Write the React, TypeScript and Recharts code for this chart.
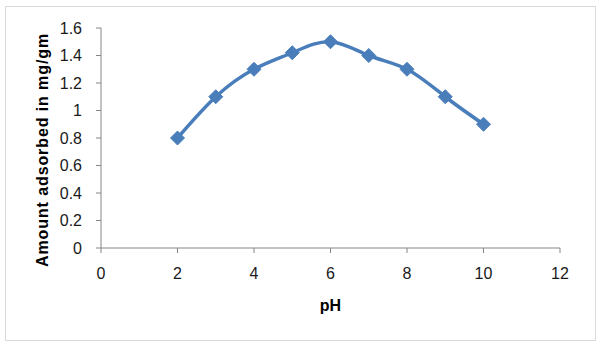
import React from "react";
import { LineChart, Line, XAxis, YAxis, Label } from "recharts";

const phValues = [2, 3, 4, 5, 6, 7, 8, 9, 10];
const amountAdsorbed = [0.8, 1.1, 1.3, 1.42, 1.5, 1.4, 1.3, 1.1, 0.9];
const xTicks = [0, 2, 4, 6, 8, 10, 12];
const yTicks = [0, 0.2, 0.4, 0.6, 0.8, 1, 1.2, 1.4, 1.6];

const data = phValues.map((ph, i) => ({ ph, amount: amountAdsorbed[i] }));

const FONT = "'Liberation Sans', Arial, sans-serif";
const AXIS = "#868686";
const BLUE = "#4A7EBB";

// diamond marker like Excel's default
const Diamond = (props: any) => {
  const { cx, cy } = props;
  if (cx == null || cy == null) return null;
  const r = 7;
  return (
    <polygon
      points={`${cx},${cy - r} ${cx + r},${cy} ${cx},${cy + r} ${cx - r},${cy}`}
      fill={BLUE}
      stroke={BLUE}
      strokeWidth={1}
    />
  );
};

const YTitle = (props: any) => {
  const vb = props.viewBox;
  const x = vb.x + 1;
  const y = vb.y + vb.height / 2 + 12;
  return (
    <text
      x={x}
      y={y}
      transform={`rotate(-90, ${x}, ${y})`}
      textAnchor="middle"
      dominantBaseline="central"
      fontFamily={FONT}
      fontWeight="bold"
      fontSize={16}
      letterSpacing={0.9}
      fill="#000"
    >
      Amount adsorbed in mg/gm
    </text>
  );
};

export default function App() {
  return (
    <div style={{ position: "absolute", left: 0, top: 0, width: 601, height: 350, background: "#fff" }}>
      <div
        style={{
          position: "absolute",
          left: 5,
          top: 6,
          width: 589,
          height: 333,
          border: "1px solid #d9d9d9",
        }}
      />
      <div style={{ position: "absolute", left: 0, top: 0 }}>
        <LineChart width={601} height={350} data={data} margin={{ top: 28, right: 41, bottom: 40, left: 41 }}>
          <XAxis
            dataKey="ph"
            type="number"
            domain={[0, 12]}
            ticks={xTicks}
            height={62}
            tickSize={5}
            tickMargin={15}
            stroke={AXIS}
            tick={{ fill: "#1a1a1a", fontSize: 16, fontFamily: FONT }}
          >
            <Label
              value="pH"
              position="insideBottom"
              offset={-1}
              style={{ fontWeight: "bold", fontSize: 16, fontFamily: FONT, fill: "#000" }}
            />
          </XAxis>
          <YAxis
            type="number"
            domain={[0, 1.6]}
            ticks={yTicks}
            width={60}
            tickSize={5}
            tickMargin={14}
            stroke={AXIS}
            tick={{ fill: "#1a1a1a", fontSize: 16, fontFamily: FONT }}
          >
            <Label content={<YTitle />} />
          </YAxis>
          <Line
            type="natural"
            dataKey="amount"
            stroke={BLUE}
            strokeWidth={3.5}
            dot={<Diamond />}
            activeDot={false}
            isAnimationActive={false}
          />
        </LineChart>
      </div>
    </div>
  );
}
